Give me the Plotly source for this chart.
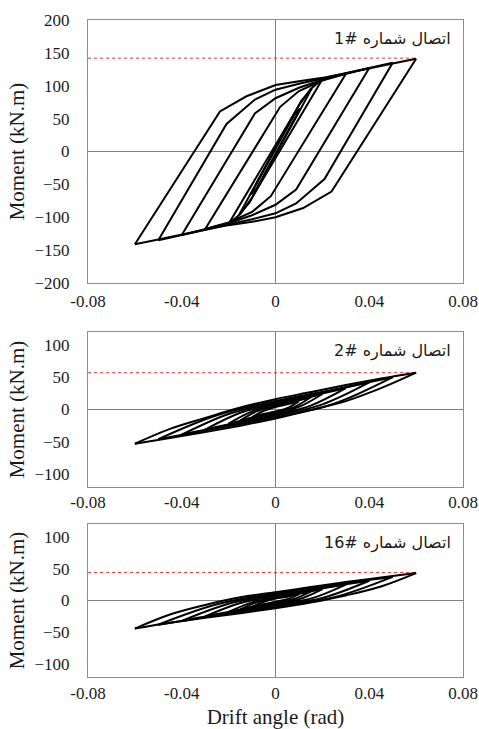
import plotly.graph_objects as go

# ---------------- data ----------------
X_TICKS = [-0.08, -0.04, 0, 0.04, 0.08]
X_TICK_TEXT = ["-0.08", "-0.04", "0", "0.04", "0.08"]
Y1_TICKS = [200, 150, 100, 50, 0, -50, -100, -150, -200]
Y23_TICKS = [100, 50, 0, -50, -100]

LABELS = ["اتصال شماره #1", "اتصال شماره #2", "اتصال شماره #16"]
PEAK_LINE = [142, 57, 44]
PEAK_X = 0.06

# Panel 1 (#1) loops: up branch (neg peak -> pos peak), down branch (pos peak -> neg peak)
P1_UP_X = [
    [-0.06, -0.0237, -0.0124, 0, 0.01, 0.02, 0.03, 0.04, 0.05, 0.06],
    [-0.05, -0.0209, -0.0088, 0, 0.01, 0.02, 0.03, 0.04, 0.05],
    [-0.04, -0.0088, 0, 0.01, 0.02, 0.03, 0.04],
    [-0.03, 0.002, 0.01, 0.02, 0.03],
    [-0.02, 0.01, 0.015, 0.02],
    [-0.0155, 0.011, 0.0155],
    [-0.0105, 0.008, 0.0105],
]
P1_UP_Y = [
    [-141, 61, 84, 101, 107, 112, 119, 127, 134, 141],
    [-135, 42, 79, 94, 103, 111, 119, 127, 135],
    [-127, 58, 81, 97, 109, 118, 127],
    [-118, 68, 92, 108, 118],
    [-110, 70, 95, 110],
    [-96, 77, 96],
    [-65, 56, 65],
]
P1_DN_X = [
    [0.06, 0.0239, 0.0118, 0, -0.01, -0.02, -0.03, -0.04, -0.05, -0.06],
    [0.05, 0.0209, 0.0088, 0, -0.01, -0.02, -0.03, -0.04, -0.05],
    [0.04, 0.0088, 0, -0.01, -0.02, -0.03, -0.04],
    [0.03, -0.002, -0.01, -0.02, -0.03],
    [0.02, -0.01, -0.015, -0.02],
    [0.0155, -0.011, -0.0155],
    [0.0105, -0.008, -0.0105],
]
P1_DN_Y = [
    [141, -61, -86, -100, -107, -112, -119, -127, -134, -141],
    [135, -42, -79, -94, -103, -111, -119, -127, -135],
    [127, -58, -81, -97, -109, -118, -127],
    [118, -68, -92, -108, -118],
    [110, -70, -95, -110],
    [96, -77, -96],
    [65, -56, -65],
]

# Panel 2 (#2)
P2_UP_X = [
    [-0.06, -0.045, -0.03, -0.015, 0, 0.015, 0.03, 0.045, 0.06],
    [-0.05, -0.025, 0, 0.025, 0.05],
    [-0.04, -0.02, 0, 0.02, 0.04],
    [-0.03, -0.015, 0, 0.015, 0.03],
    [-0.02, -0.01, 0, 0.01, 0.02],
    [-0.015, -0.0075, 0, 0.0075, 0.015],
    [-0.01, -0.005, 0, 0.005, 0.01],
]
P2_UP_Y = [
    [-53, -30, -13, 3, 16, 27, 38, 48, 57],
    [-46, -9, 13, 31, 50],
    [-39, -7, 11, 26, 42],
    [-31, -5, 9, 21, 33],
    [-22, -3, 7, 15, 24],
    [-17, -2, 5, 12, 19],
    [-12, -2, 4, 8, 13],
]
P2_DN_X = [
    [0.06, 0.045, 0.03, 0.015, 0, -0.015, -0.03, -0.045, -0.06],
    [0.05, 0.025, 0, -0.025, -0.05],
    [0.04, 0.02, 0, -0.02, -0.04],
    [0.03, 0.015, 0, -0.015, -0.03],
    [0.02, 0.01, 0, -0.01, -0.02],
    [0.015, 0.0075, 0, -0.0075, -0.015],
    [0.01, 0.005, 0, -0.005, -0.01],
]
P2_DN_Y = [
    [57, 33, 13, -1, -14, -25, -35, -44, -53],
    [50, 9, -12, -29, -46],
    [42, 8, -10, -24, -39],
    [33, 6, -8, -19, -31],
    [24, 4, -6, -13, -22],
    [19, 3, -4, -10, -17],
    [13, 2, -3, -7, -12],
]

# Panel 3 (#16)
P3_UP_X = [
    [-0.06, -0.045, -0.03, -0.015, 0, 0.015, 0.03, 0.045, 0.06],
    [-0.05, -0.025, 0, 0.025, 0.05],
    [-0.04, -0.02, 0, 0.02, 0.04],
    [-0.03, -0.015, 0, 0.015, 0.03],
    [-0.02, -0.01, 0, 0.01, 0.02],
    [-0.015, -0.0075, 0, 0.0075, 0.015],
    [-0.01, -0.005, 0, 0.005, 0.01],
]
P3_UP_Y = [
    [-44, -22, -7, 5, 13, 21, 29, 36, 43],
    [-38, -6, 11, 25, 37],
    [-32, -5, 9, 20, 31],
    [-25, -4, 7, 16, 25],
    [-18, -3, 5, 11, 18],
    [-14, -2, 4, 9, 14],
    [-10, -2, 3, 6, 10],
]
P3_DN_X = [
    [0.06, 0.045, 0.03, 0.015, 0, -0.015, -0.03, -0.045, -0.06],
    [0.05, 0.025, 0, -0.025, -0.05],
    [0.04, 0.02, 0, -0.02, -0.04],
    [0.03, 0.015, 0, -0.015, -0.03],
    [0.02, 0.01, 0, -0.01, -0.02],
    [0.015, 0.0075, 0, -0.0075, -0.015],
    [0.01, 0.005, 0, -0.005, -0.01],
]
P3_DN_Y = [
    [43, 22, 8, -3, -12, -20, -27, -35, -44],
    [37, 5, -10, -23, -38],
    [31, 4, -8, -19, -32],
    [25, 3, -6, -15, -25],
    [18, 2, -4, -10, -18],
    [14, 2, -3, -8, -14],
    [10, 2, -2, -6, -10],
]

# ---------------- figure ----------------
W, H = 479, 729
SERIF = "Liberation Serif"
INK = "#1a1a1a"


def join_branches(ux, uy, dx, dy):
    xs, ys = [], []
    for a, b, c, d in zip(ux, uy, dx, dy):
        xs += list(a) + [None] + list(c) + [None]
        ys += list(b) + [None] + list(d) + [None]
    return xs, ys


panels = [
    (P1_UP_X, P1_UP_Y, P1_DN_X, P1_DN_Y, "linear"),
    (P2_UP_X, P2_UP_Y, P2_DN_X, P2_DN_Y, "spline"),
    (P3_UP_X, P3_UP_Y, P3_DN_X, P3_DN_Y, "spline"),
]

# pixel boxes of plot areas (left, top, right, bottom)
boxes = [(88, 20, 463, 283), (88, 332, 463, 487), (88, 524, 463, 677)]
yranges = [[-200, 200], [-120, 120], [-120, 120]]
yticks = [Y1_TICKS, Y23_TICKS, Y23_TICKS]
xstandoff = [3, 0, 1]

fig = go.Figure()
layout = dict(
    width=W, height=H, margin=dict(l=0, r=0, t=0, b=0, autoexpand=False),
    paper_bgcolor="white", plot_bgcolor="white", showlegend=False,
    font=dict(family=SERIF, color=INK),
    annotations=[],
)

for i, (ux, uy, dx, dy, shape) in enumerate(panels):
    sfx = "" if i == 0 else str(i + 1)
    xa, ya = "x" + sfx, "y" + sfx
    # red dotted peak line
    fig.add_trace(go.Scatter(
        x=[-0.08, PEAK_X], y=[PEAK_LINE[i], PEAK_LINE[i]], mode="lines",
        line=dict(color="#ff3030", width=1, dash="dot"),
        xaxis=xa, yaxis=ya, hoverinfo="skip"))
    xs, ys = join_branches(ux, uy, dx, dy)
    fig.add_trace(go.Scatter(
        x=xs, y=ys, mode="lines",
        line=dict(color="black", width=2, shape=shape, smoothing=1.0),
        xaxis=xa, yaxis=ya, connectgaps=False))

    l, t, r, b = boxes[i]
    xdom = [l / W, r / W]
    ydom = [1 - b / H, 1 - t / H]
    layout["xaxis" + sfx] = dict(
        domain=xdom, range=[-0.08, 0.08], anchor=ya, automargin=False,
        showgrid=False, zeroline=True, zerolinecolor="#7f7f7f", zerolinewidth=1,
        showline=True, mirror=True, linecolor="#8c8c8c", linewidth=1, ticks="",
        tickfont=dict(family=SERIF, size=17, color=INK),
        tickvals=X_TICKS, ticktext=X_TICK_TEXT, ticklabelstandoff=xstandoff[i],
        title=dict(text="Drift angle (rad)" if i == 2 else "",
                   font=dict(family=SERIF, size=21, color=INK), standoff=10),
    )
    layout["yaxis" + sfx] = dict(
        domain=ydom, range=yranges[i], anchor=xa, automargin=False,
        showgrid=False, zeroline=True, zerolinecolor="#7f7f7f", zerolinewidth=1,
        showline=True, mirror=True, linecolor="#8c8c8c", linewidth=1, ticks="",
        tickfont=dict(family=SERIF, size=17, color=INK),
        tickvals=yticks[i], ticklabelstandoff=14,
        title=dict(text="Moment (kN.m)",
                   font=dict(family=SERIF, size=21, color=INK), standoff=4),
    )
    layout["annotations"].append(dict(
        text=LABELS[i], xref="paper", yref="paper",
        x=(r - 10) / W, y=1 - (t + 19) / H, xanchor="right", yanchor="middle",
        showarrow=False, font=dict(family="DejaVu Sans", size=16, color=INK),
    ))

fig.update_layout(**layout)
fig.write_html("out.html")
